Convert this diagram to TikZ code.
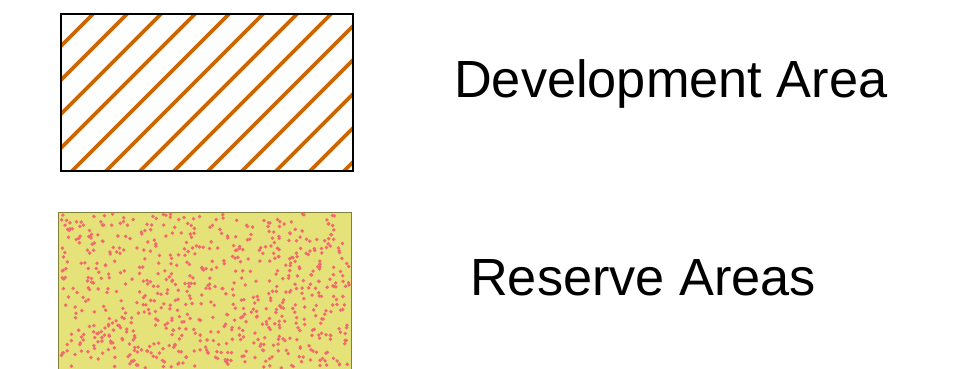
\documentclass[tikz,border=0pt]{standalone}
\usepackage{fontspec}
\setmainfont{Liberation Sans}
\usepackage{xcolor}
\usepackage{tikz}
\usetikzlibrary{calc,positioning}
\definecolor{hatchorange}{HTML}{CC6600}
\definecolor{reserveyellow}{HTML}{E6E27A}
\definecolor{reserveedge}{HTML}{80803A}
\definecolor{dotred}{HTML}{F26A6E}
\newcommand{\legendtext}[3]{\node[legend, anchor=base west] (#1) at #2 {#3} ;}
\newcommand{\reservedot}[1]{\fill[dotred] #1 circle (1.9pt) ;}

\begin{document}
\begin{tikzpicture}[x=1pt,y=-1pt,
        legend/.style={inner sep=0pt, font=\fontsize{52.3}{60}\selectfont}]
        \useasboundingbox (0,0) rectangle (960,369);
        % development area: hatched box
        \coordinate (DevNW) at (61,14);
        \coordinate (DevSE) at (353,171);
        \begin{scope}
            \clip (DevNW) rectangle (DevSE);
            \foreach \c in {107,141,...,515}
                \draw[hatchorange, line width=3.6pt] (\c-200,200) -- (\c,0);
        \end{scope}
        \draw[line width=1.4pt] (DevNW) rectangle (DevSE);
        % reserve areas: dotted box
        \coordinate (ResNW) at (58,212);
        \coordinate (ResSE) at (351,370);
        \draw[fill=reserveyellow, draw=reserveedge, line width=1pt] (ResNW) rectangle (ResSE);
        \pgfmathsetseed{4711}
        \foreach \i in {1,...,720} {
            \pgfmathsetmacro{\px}{60.5+289*rnd}
            \pgfmathsetmacro{\py}{214+154*rnd}
            \reservedot{(\px,\py)}
        }
        \legendtext{Dev}{(454,97)}{Development Area}
        \legendtext{Res}{(470,295)}{Reserve Areas}
    \end{tikzpicture}
\end{document}
